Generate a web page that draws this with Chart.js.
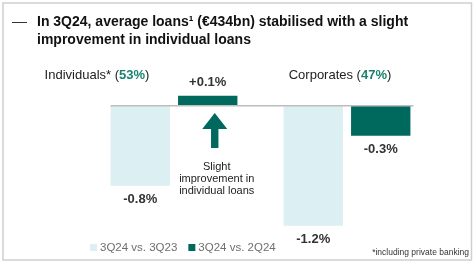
<!DOCTYPE html>
<html>
<head>
<meta charset="utf-8">
<script src="https://cdn.jsdelivr.net/npm/chart.js@4"></script>
<style>
  html, body { margin: 0; padding: 0; background: #fff; }
  #wrap { width: 475px; height: 262px; position: relative; }
</style>
</head>
<body>
<div id="wrap"><canvas id="loans"></canvas></div>
<script>
// data
var categories = ['Individuals*', 'Corporates'];
var shares = ['53%', '47%'];
var seriesNames = ['3Q24 vs. 3Q23', '3Q24 vs. 2Q24'];
var yoy = [-0.8, -1.2];
var qoq = [0.1, -0.3];
var valueLabels = [['-0.8%', '-1.2%'], ['+0.1%', '-0.3%']];

var DARK = '#00695d';
var LIGHT = '#dceff2';
var SHARE_GREEN = '#1b8270';
var FONT = '"Liberation Sans", Arial, sans-serif';

var slidePlugin = {
  id: 'slide',
  afterDraw: function(chart) {
    var ctx = chart.ctx;
    var y0 = chart.scales.y.getPixelForValue(0);
    var m0 = chart.getDatasetMeta(0).data;
    var m1 = chart.getDatasetMeta(1).data;
    ctx.save();

    // frame
    ctx.strokeStyle = '#cfcfcf';
    ctx.lineWidth = 1.5;
    ctx.strokeRect(3, 3, 468.5, 257);

    // title
    ctx.fillStyle = '#333';
    ctx.fillRect(12, 22, 15, 1);
    ctx.fillStyle = '#111';
    ctx.font = 'bold 14px ' + FONT;
    ctx.textBaseline = 'middle';
    ctx.textAlign = 'left';
    ctx.fillText('In 3Q24, average loans\u00b9 (\u20ac434bn) stabilised with a slight', 37, 22);
    ctx.fillText('improvement in individual loans', 37, 40);

    // zero line
    var left = m0[0].x - m0[0].width / 2;
    var right = m1[1].x + m1[1].width / 2 + 3;
    ctx.strokeStyle = '#bdbdbd';
    ctx.lineWidth = 1.5;
    ctx.beginPath();
    ctx.moveTo(left, y0);
    ctx.lineTo(right, y0);
    ctx.stroke();

    // category headers
    function header(text, share, cx, cy) {
      ctx.font = '13px ' + FONT;
      var a = text + ' (';
      var wa = ctx.measureText(a).width;
      var wc = ctx.measureText(')').width;
      ctx.font = 'bold 13px ' + FONT;
      var wb = ctx.measureText(share).width;
      var x = cx - (wa + wb + wc) / 2;
      ctx.textAlign = 'left';
      ctx.font = '13px ' + FONT;
      ctx.fillStyle = '#222';
      ctx.fillText(a, x, cy);
      ctx.font = 'bold 13px ' + FONT;
      ctx.fillStyle = SHARE_GREEN;
      ctx.fillText(share, x + wa, cy);
      ctx.font = '13px ' + FONT;
      ctx.fillStyle = '#222';
      ctx.fillText(')', x + wa + wb, cy);
    }
    header(categories[0], shares[0], 97, 75);
    header(categories[1], shares[1], 340, 75);

    // value labels
    ctx.font = 'bold 13px ' + FONT;
    ctx.fillStyle = '#333';
    ctx.textAlign = 'center';
    [m0, m1].forEach(function(meta, d) {
      meta.forEach(function(bar, i) {
        var v = chart.data.datasets[d].data[i];
        var ly = v >= 0 ? bar.y - 13 : bar.y + 14;
        ctx.fillText(valueLabels[d][i], bar.x, ly);
      });
    });

    // arrow + note
    var ax = m1[0].x + 7;
    ctx.fillStyle = DARK;
    ctx.beginPath();
    ctx.moveTo(ax, 113);
    ctx.lineTo(ax + 12.5, 129);
    ctx.lineTo(ax + 3.7, 129);
    ctx.lineTo(ax + 3.7, 148);
    ctx.lineTo(ax - 3.7, 148);
    ctx.lineTo(ax - 3.7, 129);
    ctx.lineTo(ax - 12.5, 129);
    ctx.closePath();
    ctx.fill();
    ctx.font = '11px ' + FONT;
    ctx.fillStyle = '#222';
    ctx.fillText('Slight', ax + 2, 167);
    ctx.fillText('improvement in', ax + 2, 179);
    ctx.fillText('individual loans', ax + 2, 191);

    // legend
    var lx = 90;
    ctx.font = '11.5px ' + FONT;
    ctx.textAlign = 'left';
    chart.data.datasets.forEach(function(ds) {
      ctx.fillStyle = ds.backgroundColor;
      ctx.fillRect(lx, 244, 7, 7);
      ctx.fillStyle = '#6e6e6e';
      ctx.fillText(ds.label, lx + 10, 248);
      lx += 10 + ctx.measureText(ds.label).width + 11;
    });

    // footnote
    ctx.font = '8.5px ' + FONT;
    ctx.fillStyle = '#333';
    ctx.textAlign = 'right';
    ctx.fillText('*including private banking', 469, 253);

    ctx.restore();
  }
};

new Chart(document.getElementById('loans'), {
  type: 'bar',
  data: {
    labels: categories,
    datasets: [{
      label: seriesNames[0],
      data: yoy,
      backgroundColor: LIGHT,
      categoryPercentage: 0.78,
      barPercentage: 0.88
    }, {
      label: seriesNames[1],
      data: qoq,
      backgroundColor: DARK,
      categoryPercentage: 0.78,
      barPercentage: 0.88
    }]
  },
  options: {
    responsive: true,
    maintainAspectRatio: false,
    animation: false,
    layout: { padding: { left: 87.5, right: 41.5, top: 65.7, bottom: 16.3 } },
    scales: {
      x: { display: false },
      y: { display: false, min: -1.4, max: 0.4 }
    },
    plugins: {
      legend: { display: false },
      tooltip: { enabled: false }
    }
  },
  plugins: [slidePlugin]
});
</script>
</body>
</html>
